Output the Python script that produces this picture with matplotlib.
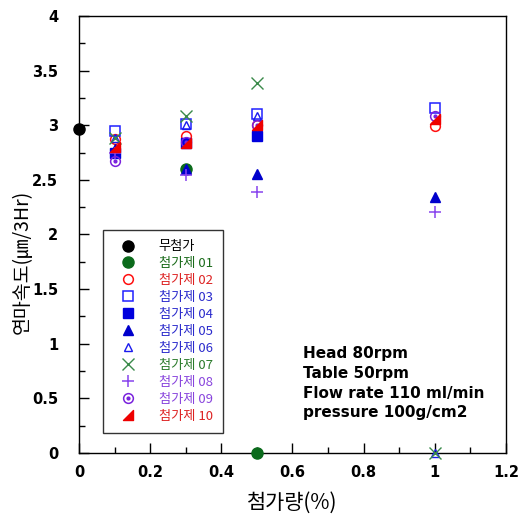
import numpy as np
import matplotlib
matplotlib.use("Agg")
import matplotlib.pyplot as plt
from matplotlib.path import Path
from matplotlib.legend_handler import HandlerTuple
from matplotlib.ticker import MultipleLocator

plt.rcParams['font.family'] = ['Noto Sans CJK KR', 'DejaVu Sans']

# data
labels = ['무첨가', '첨가제 01', '첨가제 02', '첨가제 03', '첨가제 04', '첨가제 05',
          '첨가제 06', '첨가제 07', '첨가제 08', '첨가제 09', '첨가제 10']
xs = [
    [0.0],
    [0.3, 0.5],
    [0.1, 0.3, 0.5, 1.0],
    [0.1, 0.3, 0.5, 1.0],
    [0.1, 0.3, 0.5],
    [0.1, 0.3, 0.5, 1.0],
    [0.1, 0.3, 0.5, 1.0],
    [0.1, 0.3, 0.5, 1.0],
    [0.1, 0.3, 0.5, 1.0],
    [0.1, 0.3, 0.5, 1.0],
    [0.1, 0.3, 0.5, 1.0],
]
ys = [
    [2.97],
    [2.60, 0.0],
    [2.87, 2.90, 3.00, 2.99],
    [2.95, 3.01, 3.10, 3.16],
    [2.75, 2.84, 2.90],
    [2.78, 2.60, 2.55, 2.34],
    [2.88, 3.00, 3.08, 0.0],
    [2.88, 3.08, 3.39, 0.0],
    [2.75, 2.54, 2.39, 2.21],
    [2.67, 2.85, 3.00, 3.08],
    [2.80, 2.84, 3.00, 3.06],
]
xticks = [0, 0.2, 0.4, 0.6, 0.8, 1, 1.2]
yticks = [0, 0.5, 1, 1.5, 2, 2.5, 3, 3.5, 4]
conditions = "Head 80rpm\nTable 50rpm\nFlow rate 110 ml/min\npressure 100g/cm2"

# styles
corner = Path([(-1, -1), (1, -1), (1, 1), (-1, -1)],
              [Path.MOVETO, Path.LINETO, Path.LINETO, Path.CLOSEPOLY])
styles = [
    dict(marker='o', color='black', mfc='black', ms=8),
    dict(marker='o', color='#0b6b1c', mfc='#0b6b1c', ms=8),
    dict(marker='o', color='#ff1010', mfc='none', ms=7, mew=1.1),
    dict(marker='s', color='#2020ff', mfc='none', ms=7, mew=1.1),
    dict(marker='s', color='#0000dd', mfc='#0000dd', ms=7),
    dict(marker='^', color='#0000cc', mfc='#0000cc', ms=7),
    dict(marker='^', color='#1a1aee', mfc='none', ms=6, mew=1.0),
    dict(marker='x', color='#3a8a4a', ms=8, mew=1.0),
    dict(marker='+', color='#8844ee', ms=9, mew=1.1),
    dict(marker='o', color='#7a22dd', mfc='none', ms=7, mew=1.1),
    dict(marker=corner, color='#ee0000', mfc='#ee0000', ms=7),
]
text_colors = ['black', '#1a6b1a', '#dd2222', '#2a2acc', '#2a2acc', '#2a2acc',
               '#2a2acc', '#2a7a2a', '#8844dd', '#8844dd', '#dd2222']

fig = plt.figure(figsize=(5.18, 5.19), dpi=100)
ax = fig.add_axes([0.1525, 0.1272, 0.824, 0.842])

handles = []
for i, (x, y) in enumerate(zip(xs, ys)):
    h, = ax.plot(x, y, ls='none', clip_on=False, zorder=3, **styles[i])
    if i == 9:
        # circle with a dot in the middle
        d, = ax.plot(x, y, ls='none', marker='o', ms=2, color=styles[i]['color'],
                     clip_on=False, zorder=3)
        handles.append((h, d))
    else:
        handles.append(h)

ax.set_xlim(0, 1.2)
ax.set_ylim(0, 4)
ax.set_xticks(xticks)
ax.set_yticks(yticks)
ax.xaxis.set_minor_locator(MultipleLocator(0.1))
ax.yaxis.set_minor_locator(MultipleLocator(0.25))
ax.tick_params(which='both', direction='in', top=False, right=False)
ax.tick_params(which='major', length=7, width=1)
ax.tick_params(which='minor', length=4, width=1)
ax.set_xticklabels([f"{v:g}" for v in xticks])
ax.set_yticklabels([f"{v:g}" for v in yticks])
ax.tick_params(axis='x', pad=9)
ax.tick_params(axis='y', pad=15)
for lab in ax.get_xticklabels() + ax.get_yticklabels():
    lab.set_fontfamily('DejaVu Sans')
    lab.set_fontweight('bold')
    lab.set_fontsize(10.5)
for s in ax.spines.values():
    s.set_linewidth(1.0)

ax.set_xlabel('첨가량(%)', fontsize=15, labelpad=8)
fig.text(0.042, 0.495, '연마속도(㎛/3Hr)', fontsize=14, rotation=90,
         ha='center', va='center')

leg = ax.legend(handles, labels, loc='lower left', bbox_to_anchor=(0.041, 0.03),
                fontsize=9.5, frameon=True, fancybox=False, edgecolor='black',
                handler_map={tuple: HandlerTuple(ndivide=1, pad=0)},
                handlelength=2.2, labelspacing=0.3, borderpad=0.8,
                handletextpad=1.2)
leg.get_frame().set_linewidth(1.0)
for t, c in zip(leg.get_texts(), text_colors):
    t.set_color(c)

ax.text(0.63, 0.975, conditions, fontsize=11, fontweight='bold',
        family='DejaVu Sans', va='top', ha='left', linespacing=1.38)

fig.savefig('out.png', dpi=100)
